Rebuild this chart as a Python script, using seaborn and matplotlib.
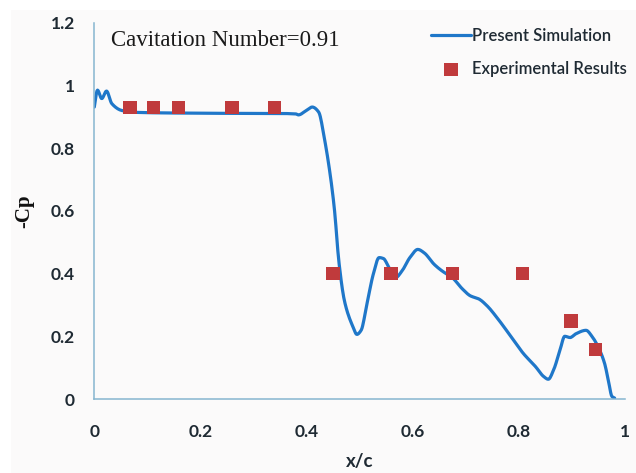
import numpy as np
import pandas as pd
import matplotlib
matplotlib.use("Agg")
import matplotlib.pyplot as plt
import seaborn as sns
from matplotlib.patches import Rectangle

# ---- data ----
sim_x = [0.0, 0.006, 0.014, 0.023, 0.033, 0.052, 0.08, 0.15, 0.25, 0.33, 0.38, 0.385,
         0.398, 0.411, 0.423, 0.434, 0.446, 0.453, 0.461, 0.472, 0.488, 0.495, 0.503,
         0.514, 0.526, 0.537, 0.545, 0.557, 0.568, 0.58, 0.595, 0.61, 0.622, 0.641,
         0.656, 0.675, 0.694, 0.709, 0.725, 0.74, 0.763, 0.786, 0.809, 0.832, 0.847,
         0.856, 0.866, 0.878, 0.887, 0.897, 0.908, 0.927, 0.939, 0.95, 0.962, 0.969,
         0.976, 0.981]
sim_y = [0.931, 0.985, 0.958, 0.982, 0.942, 0.92, 0.914, 0.912, 0.911, 0.911, 0.909, 0.906,
         0.918, 0.931, 0.915, 0.829, 0.70, 0.6, 0.44, 0.31, 0.229, 0.206, 0.219,
         0.303, 0.398, 0.451, 0.448, 0.414, 0.387, 0.408, 0.451, 0.477, 0.466, 0.429,
         0.408, 0.387, 0.351, 0.329, 0.319, 0.298, 0.251, 0.198, 0.145, 0.103, 0.072,
         0.063, 0.093, 0.156, 0.2, 0.196, 0.208, 0.219, 0.198, 0.166, 0.114, 0.061,
         0.008, 0.003]
exp_x = [0.067, 0.112, 0.159, 0.260, 0.340, 0.450, 0.559, 0.675, 0.807, 0.899, 0.945]
exp_y = [0.93, 0.93, 0.93, 0.93, 0.93, 0.40, 0.40, 0.40, 0.40, 0.248, 0.158]
x_ticks = [0, 0.2, 0.4, 0.6, 0.8, 1]
x_ticklabels = ["0", "0.2", "0.4", "0.6", "0.8", "1"]
y_ticks = [0, 0.2, 0.4, 0.6, 0.8, 1, 1.2]
y_ticklabels = ["0", "0.2", "0.4", "0.6", "0.8", "1", "1.2"]

# smooth the simulation curve (monotone cubic through the read points)
def pchip(x, y, xn):
    x = np.asarray(x, float); y = np.asarray(y, float)
    h = np.diff(x); d = np.diff(y) / h
    m = np.zeros_like(y)
    for i in range(1, len(y) - 1):
        if d[i - 1] * d[i] > 0:
            w1 = 2 * h[i] + h[i - 1]; w2 = h[i] + 2 * h[i - 1]
            m[i] = (w1 + w2) / (w1 / d[i - 1] + w2 / d[i])
    m[0] = d[0]; m[-1] = d[-1]
    idx = np.clip(np.searchsorted(x, xn) - 1, 0, len(h) - 1)
    t = (xn - x[idx]) / h[idx]
    h00 = 2*t**3 - 3*t**2 + 1; h10 = t**3 - 2*t**2 + t
    h01 = -2*t**3 + 3*t**2; h11 = t**3 - t**2
    return h00*y[idx] + h10*h[idx]*m[idx] + h01*y[idx+1] + h11*h[idx]*m[idx+1]

xs = np.linspace(sim_x[0], sim_x[-1], 800)
sim_df = pd.DataFrame({"x": xs, "y": pchip(sim_x, sim_y, xs)})
exp_df = pd.DataFrame({"x": exp_x, "y": exp_y})

sns.set_style("white")
plt.rcParams["font.family"] = ["Lato", "DejaVu Sans"]

fig = plt.figure(figsize=(6.36, 4.73), dpi=100, facecolor="white")
fig.patches.append(Rectangle((11/636, 0), 1 - 11/636, 1 - 10/473, transform=fig.transFigure,
                             facecolor="#fbfafa", edgecolor="none", zorder=-10))
ax = fig.add_axes([94.3/636, 1 - 399/473, (624.7 - 94.3)/636, (399 - 22.7)/473])
ax.set_facecolor("none")

line_c = "#1f77c9"
mark_c = "#c03a3c"
axis_c = "#86b5cf"
text_c = "#1f2a33"

sns.lineplot(data=sim_df, x="x", y="y", ax=ax, color=line_c, linewidth=2.3,
             label="Present Simulation", zorder=2)
sns.scatterplot(data=exp_df, x="x", y="y", ax=ax, color=mark_c, marker="s", s=95,
                edgecolor="none", label="Experimental Results", zorder=3)

ax.set_xlim(0, 1)
ax.set_ylim(0, 1.2)
ax.set_xticks(x_ticks)
ax.set_xticklabels(x_ticklabels)
ax.set_yticks(y_ticks)
ax.set_yticklabels(y_ticklabels)
for s in ["top", "right"]:
    ax.spines[s].set_visible(False)
for s in ["left", "bottom"]:
    ax.spines[s].set_color(axis_c)
    ax.spines[s].set_linewidth(1.1)
ax.tick_params(axis="both", direction="out", length=6, width=1.1, color=axis_c,
               labelsize=12.5, labelcolor=text_c)
ax.tick_params(axis="x", pad=12)
ax.tick_params(axis="y", pad=8)
for lab in ax.get_xticklabels() + ax.get_yticklabels():
    lab.set_fontweight("bold")

ax.set_xlabel("x/c", fontsize=13.5, fontweight="bold", color=text_c, labelpad=9)
ax.set_ylabel("-Cp", fontsize=15, fontweight="bold", color="#111111",
              family=["Liberation Serif"], labelpad=12)

ax.text(111/636, 1 - 46/473, "Cavitation Number=0.91", transform=fig.transFigure,
        family=["Liberation Serif"], fontsize=16.5, color="#1a1a1a", va="baseline")

leg = ax.legend(loc="upper left", bbox_to_anchor=(431/636, 1 - 28/473),
                bbox_transform=fig.transFigure, frameon=False, fontsize=12,
                handlelength=2.4, handletextpad=0.05, labelspacing=1.0,
                borderaxespad=0, borderpad=0, markerscale=1.0)
for t in leg.get_texts():
    t.set_color(text_c)
    t.set_fontweight("semibold")

fig.savefig("out.png", dpi=100, facecolor=fig.get_facecolor())
